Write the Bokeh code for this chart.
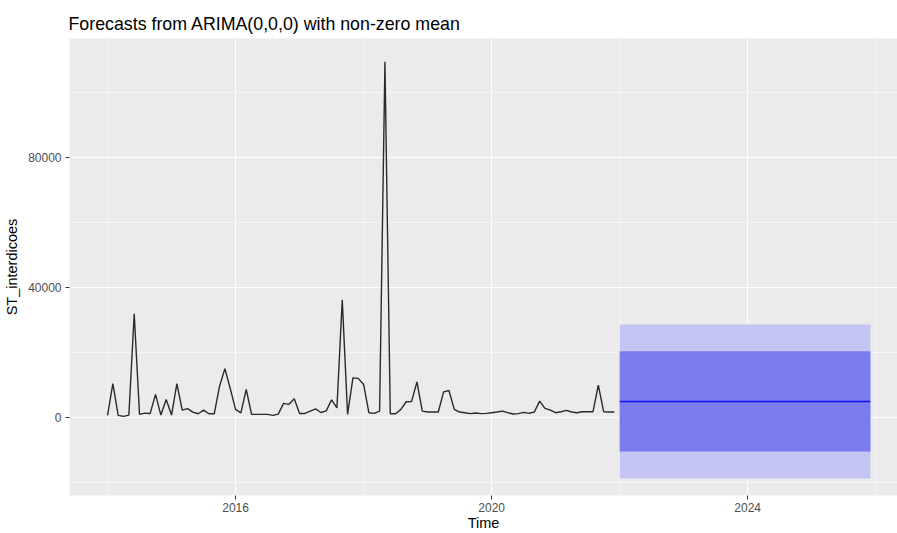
from bokeh.plotting import figure
from bokeh.models import Range1d, FixedTicker
from bokeh.embed import file_html
from bokeh.resources import INLINE

# ---- data ----
start_year = 2014  # monthly series, Jan 2014 .. Dec 2021
values = [
    600, 10400, 600, 300, 700, 31900, 900, 1300, 1200, 7060, 700, 5500,
    700, 10400, 2200, 2700, 1600, 1100, 2200, 1100, 1100, 9600, 15000, 8900,
    2450, 1400, 8600, 900, 900, 900, 900, 600, 1000, 4300, 4000, 5700,
    1200, 1200, 1900, 2600, 1500, 2000, 5400, 2900, 36200, 900, 12150, 12000,
    10130, 1400, 1230, 1930, 109600, 1100, 1100, 2450, 4800, 4900, 10930, 1930,
    1630, 1630, 1630, 7860, 8270, 2450, 1630, 1430, 1130, 1330, 1130, 1230,
    1430, 1630, 1930, 1430, 1020, 1130, 1530, 1230, 1630, 5000, 2760, 2240,
    1430, 1730, 2150, 1630, 1430, 1730, 1730, 1730, 9910, 1730, 1630, 1630,
]
fc_start_year = 2022
fc_months = 48
fc_mean = 4900
fc_lo80, fc_hi80 = -10500, 20400
fc_lo95, fc_hi95 = -18850, 28600

x_major = [2016, 2020, 2024]
x_minor = [2014, 2018, 2022, 2026]
y_major = [0, 40000, 80000]
y_minor = [-20000, 20000, 60000, 100000]

title_text = "Forecasts from ARIMA(0,0,0) with non-zero mean"
y_title = "ST_interdicoes"
x_title = "Time"

t = [start_year + i / 12 for i in range(len(values))]
ft = [fc_start_year + i / 12 for i in range(fc_months)]

FONT = "Liberation Sans"

x0, x1 = 2013.406, 2026.34
y0, y1 = -24093, 116757

p = figure(width=897, height=533, output_backend="svg", toolbar_location=None,
           x_range=Range1d(x0, x1), y_range=Range1d(y0, y1),
           min_border_left=69, min_border_right=0, min_border_top=38,
           min_border_bottom=34,
           background_fill_color="#EBEBEB", border_fill_color="white",
           outline_line_color=None,
           title=title_text)

p.title.text_font = FONT
p.title.text_font_size = "17.8px"
p.title.text_font_style = "normal"
p.title.text_color = "black"
p.title.align = "left"
p.title.offset = -1
p.title.standoff = 9

# grids
p.xgrid.ticker = FixedTicker(ticks=x_major, minor_ticks=x_minor)
p.ygrid.ticker = FixedTicker(ticks=y_major, minor_ticks=y_minor)
for g in (p.xgrid, p.ygrid):
    g.grid_line_color = "white"
    g.grid_line_width = 1.1
    g.minor_grid_line_color = "white"
    g.minor_grid_line_width = 0.55

# axes
p.xaxis.ticker = FixedTicker(ticks=x_major)
p.yaxis.ticker = FixedTicker(ticks=y_major)
p.xaxis.major_label_overrides = {v: str(v) for v in x_major}
p.yaxis.major_label_overrides = {v: str(v) for v in y_major}
p.xaxis.axis_label = x_title
p.yaxis.axis_label = y_title
for ax in (p.xaxis, p.yaxis):
    ax.axis_line_color = None
    ax.major_tick_in = 0
    ax.major_tick_out = 4
    ax.major_tick_line_color = "#333333"
    ax.minor_tick_line_color = None
    ax.major_label_text_color = "#4D4D4D"
    ax.major_label_text_font = FONT
    ax.major_label_text_font_size = "12px"
    ax.axis_label_text_font = FONT
    ax.axis_label_text_font_size = "14.5px"
    ax.axis_label_text_font_style = "normal"
    ax.axis_label_text_color = "black"
p.xaxis.major_label_standoff = 3
p.xaxis.axis_label_standoff = 0
p.yaxis.major_label_standoff = 4
p.yaxis.axis_label_standoff = 5

# forecast bands
p.varea(x=ft, y1=[fc_lo95] * fc_months, y2=[fc_hi95] * fc_months,
        fill_color="#C4C4F5", fill_alpha=1.0)
p.varea(x=ft, y1=[fc_lo80] * fc_months, y2=[fc_hi80] * fc_months,
        fill_color="#7B7BEE", fill_alpha=1.0)
p.line(ft, [fc_mean] * fc_months, line_color="#1010F0", line_width=1.5)

# observed series
p.line(t, values, line_color="#2A2A2A", line_width=1.4)

open("out.html", "w").write(file_html(p, INLINE))
